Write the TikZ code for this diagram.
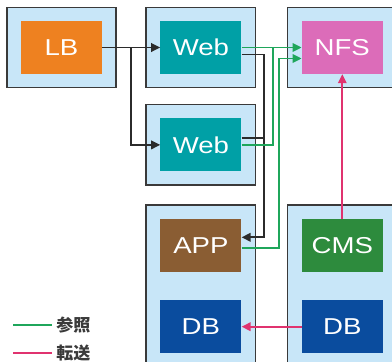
\documentclass[tikz,border=0pt]{standalone}
\usepackage{fontspec}
\setmainfont{Liberation Sans}
\newfontfamily\jpfont{Noto Sans CJK JP}
\usetikzlibrary{arrows.meta,positioning,fit,backgrounds}
\definecolor{paleblue}{HTML}{C8E6F8}
\definecolor{frame}{HTML}{3A3A3A}
\definecolor{lbcol}{HTML}{EE8120}
\definecolor{webcol}{HTML}{00A0A6}
\definecolor{nfscol}{HTML}{DC6CB9}
\definecolor{appcol}{HTML}{8A5D33}
\definecolor{cmscol}{HTML}{2D8B3D}
\definecolor{dbcol}{HTML}{0A4C9E}
\definecolor{refcol}{HTML}{1FA65B}
\definecolor{sendcol}{HTML}{E0336F}
\definecolor{linkcol}{HTML}{2B2B2B}
\newcommand{\wide}[1]{\scalebox{1.2}[1]{#1}}
\tikzset{
    %Define standard arrow tip
    >={Triangle[length=9pt,width=8.5pt]},
    role/.style={
      rectangle,
      text=white,
      font=\fontsize{23}{23}\selectfont,
      minimum width=81pt,
      minimum height=53pt,
      inner sep=0pt},
    host/.style={
      rectangle,
      draw=frame, line width=1.5pt,
      fill=paleblue,
      inner xsep=14pt,
      inner ysep=13.5pt},
    link/.style={draw=linkcol, line width=1.9pt},
    refer/.style={draw=refcol, line width=1.9pt},
    send/.style={draw=sendcol, line width=1.9pt},
    keytext/.style={
      right, text=frame,
      font=\jpfont\bfseries\fontsize{17}{17}\selectfont},
}
\begin{document}
\begin{tikzpicture}[x=1pt,y=-1pt]
    \useasboundingbox (0,0) rectangle (392,362);
    \node (lb) [role, fill=lbcol] at (61.5,47.5)
          {\wide{LB}};
    \node (web1) [role, fill=webcol] [right=58pt of lb]
          {\wide{Web}};
    \node (nfs) [role, fill=nfscol] [right=60pt of web1]
          {\wide{NFS}};
    \node (web2) [role, fill=webcol] [below=44pt of web1]
          {\wide{Web}};
    \node (app) [role, fill=appcol] [below=47pt of web2]
          {\wide{APP}};
    \node (db1) [role, fill=dbcol] [below=28pt of app]
          {\wide{DB}};
    \node (cms) [role, fill=cmscol] [right=60pt of app]
          {\wide{CMS}};
    \node (db2) [role, fill=dbcol] [right=60pt of db1]
          {\wide{DB}};
    \begin{scope}[on background layer]
      \node (lbhost) [host, fit=(lb)] {};
      \node (web1host) [host, fit=(web1)] {};
      \node (nfshost) [host, fit=(nfs)] {};
      \node (web2host) [host, fit=(web2)] {};
      \node (apphost) [host, fit=(app)(db1)] {};
      \node (cmshost) [host, fit=(cms)(db2)] {};
    \end{scope}
    % LB to both Web servers
    \draw [->, link] (lb) -- (web1);
    \draw [->, link] (lb.east) -- ++(29pt,0) |- (web2);
    % Web servers to APP
    \draw [->, link] ([yshift=-7pt]web1.east) -- ++(22pt,0) coordinate (bj)
          |- ([yshift=8pt]app.east);
    \draw [link] ([yshift=7pt]web2.east) coordinate (w2b) -- (bj |- w2b);
    % references to NFS
    \draw [->, refer] (web1.east) -- (nfs.west);
    \draw [refer] (web2.east) -- ++(31pt,0) coordinate (gj) -- (gj |- web1.east);
    \draw [->, refer] ([yshift=-3pt]app.east) -- ++(37pt,0)
          |- ([yshift=-11pt]nfs.west);
    % transfers
    \draw [->, send] (cms) -- (nfs);
    \draw [->, send] (db2) -- (db1);
    % key
    \coordinate (keyref) at (13,325);
    \coordinate (keysend) at (13,353);
    \draw [refer] (keyref) -- ++(39pt,0) node (keyreftext) [keytext] {参照};
    \draw [send] (keysend) -- ++(39pt,0) node (keysendtext) [keytext] {転送};
\end{tikzpicture}
\end{document}
